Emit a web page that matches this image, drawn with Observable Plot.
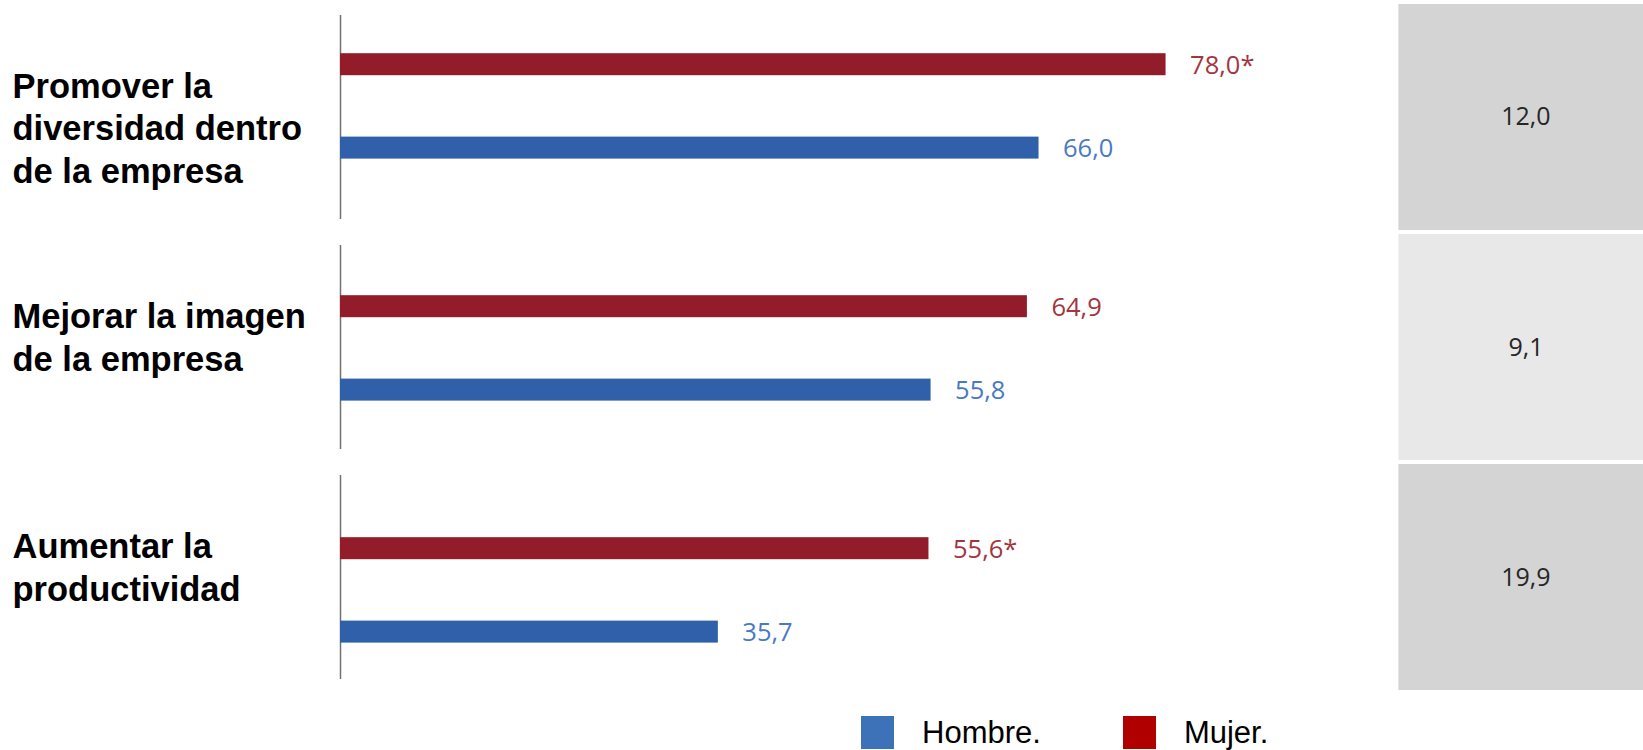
<!DOCTYPE html>
<html>
<head>
<meta charset="utf-8">
<script src="https://cdn.jsdelivr.net/npm/d3@7"></script>
<script src="https://cdn.jsdelivr.net/npm/@observablehq/plot@0.6"></script>
<style>
  html, body { margin: 0; padding: 0; background: #fff; overflow: hidden; }
  #chart { position: relative; width: 1643px; height: 715px; }
  #chart svg { position: absolute; left: 0; top: 0; }
  #legend { width: 1643px; height: 35px; overflow: hidden; }
  .lg-swatches { font-family: "Liberation Sans", Arial, sans-serif !important; font-size: 31px !important; line-height: 35px !important; color: #000; margin: 0 !important; padding-left: 861px; min-height: 35px !important; height: 35px; overflow: hidden; }
  .lg-swatches .lg-swatch { margin-right: 82px !important; }
  .lg-swatches .lg-swatch > svg { margin-right: 28px !important; }
</style>
</head>
<body>
<div id="chart"></div>
<div id="legend"></div>
<script>
// ---- data ----
const categories = [
  "Promover la\ndiversidad dentro\nde la empresa",
  "Mejorar la imagen\nde la empresa",
  "Aumentar la\nproductividad"
];
const mujer = [78.0, 64.9, 55.6];
const hombre = [66.0, 55.8, 35.7];
const mujerSignificant = [true, false, true];
const diferencia = [12.0, 9.1, 19.9];
const series = ["Hombre.", "Mujer."];
const axisMax = 100;
const diffColumn = [100, 124];

// ---- styles ----
const boxFills = ["#d4d4d4", "#e8e8e8", "#d4d4d4"];
const barColors = {Mujer: "#931c2a", Hombre: "#3060aa"};
const labelColors = {Mujer: "#a3353f", Hombre: "#4a79c2"};
const legendColors = ["#3d72b9", "#b00000"];
const valueFont = '"Open Sans", "Noto Sans", sans-serif';
const labelFont = '"Liberation Sans", Arial, sans-serif';

const fmt = v => v.toFixed(1).replace(".", ",");
const rows = categories.map((cat, i) => ({
  cat,
  mujer: mujer[i],
  hombre: hombre[i],
  mLabel: fmt(mujer[i]) + (mujerSignificant[i] ? "*" : ""),
  hLabel: fmt(hombre[i]),
  diff: diferencia[i],
  dLabel: fmt(diferencia[i]),
  box: boxFills[i]
}));

const W = 1643, H = 715;
const xScale = {domain: [0, axisMax], range: [340, 1398.4], axis: null};

// Layer A: difference boxes, axis segments, category labels
const plotA = Plot.plot({
  width: W, height: H,
  marginTop: 4, marginBottom: 25, marginLeft: 0, marginRight: 0,
  x: xScale,
  y: {type: "band", domain: categories, paddingInner: 0.0174, paddingOuter: 0, round: false, axis: null},
  color: {type: "identity"},
  style: {background: "#fff", fontFamily: labelFont, overflow: "visible"},
  marks: [
    Plot.barX(rows, {x1: diffColumn[0], x2: diffColumn[1], y: "cat", fill: "box"}),
    Plot.text(rows, {x: (diffColumn[0] + diffColumn[1]) / 2, y: "cat", text: "dLabel",
      fontSize: 25, fontFamily: valueFont, fill: "#262626"}),
    Plot.tickX(rows, {x: 0, y: "cat", stroke: "#707070", strokeWidth: 1.5, insetTop: 11, insetBottom: 11}),
    Plot.text(rows, {y: "cat", text: "cat", frameAnchor: "left", textAnchor: "start", lineAnchor: "top",
      dx: 12, dy: -50.5, fontSize: 34.5, fontWeight: "bold", lineHeight: 1.246, fill: "#000", fontFamily: labelFont})
  ]
});

// Layer B: bars and value labels
const plotB = Plot.plot({
  width: W, height: H,
  marginTop: 22.5, marginBottom: 41.7, marginLeft: 0, marginRight: 0,
  x: xScale,
  y: {type: "band", domain: categories, paddingInner: 0.3107, paddingOuter: 0, round: false, axis: null},
  style: {background: "transparent", fontFamily: valueFont, overflow: "visible"},
  marks: [
    Plot.barX(rows, {x: "mujer", y: "cat", fill: barColors.Mujer, insetTop: 30.7, insetBottom: 114.1}),
    Plot.barX(rows, {x: "hombre", y: "cat", fill: barColors.Hombre, insetTop: 114.1, insetBottom: 30.7}),
    Plot.text(rows, {x: "mujer", y: "cat", text: "mLabel", textAnchor: "start", dx: 24, dy: -40.7,
      fontSize: 25.5, fill: labelColors.Mujer, fontFamily: valueFont}),
    Plot.text(rows, {x: "hombre", y: "cat", text: "hLabel", textAnchor: "start", dx: 24, dy: 42.7,
      fontSize: 25.5, fill: labelColors.Hombre, fontFamily: valueFont})
  ]
});

const chart = document.getElementById("chart");
chart.appendChild(plotA);
chart.appendChild(plotB);

const legend = Plot.legend({
  color: {type: "ordinal", domain: series, range: legendColors},
  swatchSize: 33,
  className: "lg"
});
document.getElementById("legend").appendChild(legend);
</script>
</body>
</html>
